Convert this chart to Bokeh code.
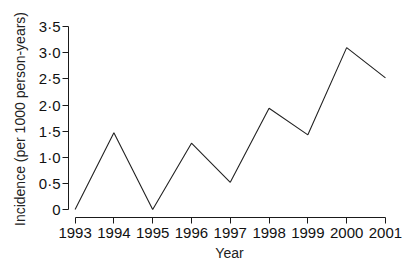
from bokeh.plotting import figure
from bokeh.models import FixedTicker, CustomJSTickFormatter, Range1d
from bokeh.embed import file_html
from bokeh.resources import INLINE

years = [1993, 1994, 1995, 1996, 1997, 1998, 1999, 2000, 2001]
incidence = [0.0, 1.47, 0.0, 1.27, 0.52, 1.94, 1.43, 3.10, 2.52]
y_ticks = [0, 0.5, 1.0, 1.5, 2.0, 2.5, 3.0, 3.5]
y_labels = ["0", "0·5", "1·0", "1·5", "2·0", "2·5", "3·0", "3·5"]
x_title = "Year"
y_title = "Incidence (per 1000 person-years)"

FONT = "Liberation Sans"

p = figure(width=406, height=269, output_backend="svg", toolbar_location=None,
           x_range=Range1d(1992.83, 2001.13), y_range=Range1d(-0.153, 3.62))
p.min_border_left = 68
p.min_border_right = 16
p.min_border_top = 20
p.min_border_bottom = 52
p.outline_line_color = None
p.grid.visible = False
p.background_fill_color = "white"

p.line(years, incidence, line_color="#222222", line_width=1.1)

xa = p.xaxis[0]
ya = p.yaxis[0]
xa.ticker = FixedTicker(ticks=years)
xa.bounds = (years[0], years[-1])
ya.ticker = FixedTicker(ticks=y_ticks)
ya.bounds = (y_ticks[0], y_ticks[-1])
ya.formatter = CustomJSTickFormatter(args=dict(tv=y_ticks, tl=y_labels), code="""
const i = tv.indexOf(tick);
return i >= 0 ? tl[i] : "";
""")
xa.formatter = CustomJSTickFormatter(code="return String(Math.round(tick));")

for ax in (xa, ya):
    ax.axis_line_color = "#1a1a1a"
    ax.axis_line_width = 1
    ax.major_tick_line_color = "#1a1a1a"
    ax.major_tick_out = 6
    ax.major_tick_in = 0
    ax.minor_tick_out = 0
    ax.minor_tick_in = 0
    ax.major_label_text_font = FONT
    ax.major_label_text_font_size = "15px"
    ax.major_label_text_color = "#111111"
    ax.axis_label_text_font = FONT
    ax.axis_label_text_font_size = "14px"
    ax.axis_label_text_font_style = "normal"
    ax.axis_label_text_color = "#222222"

xa.axis_label = x_title
ya.axis_label = y_title
xa.major_label_standoff = 4
xa.axis_label_standoff = 4
ya.major_label_standoff = 2
ya.axis_label_standoff = 8

open("out.html", "w").write(file_html(p, INLINE))
